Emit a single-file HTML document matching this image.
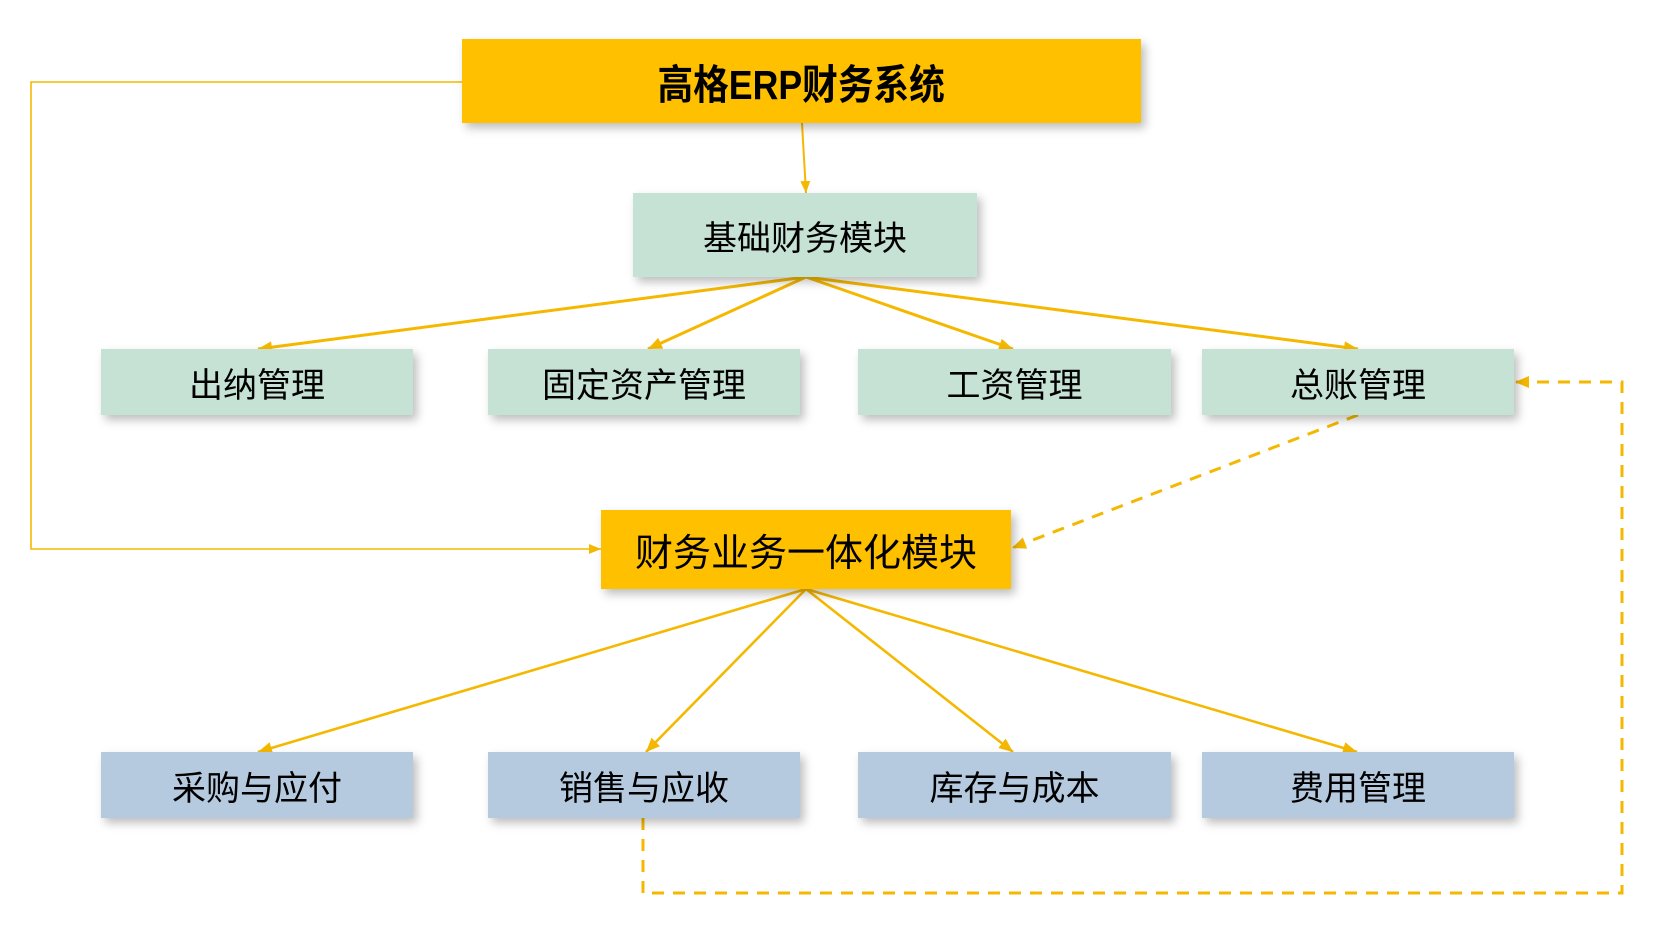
<!DOCTYPE html>
<html>
<head>
<meta charset="utf-8">
<style>
  html, body { margin:0; padding:0; background:#ffffff; }
  body { width:1658px; height:935px; position:relative; overflow:hidden;
         font-family:"Liberation Sans","Noto Sans CJK SC",sans-serif; }
  .box { position:absolute; display:flex; align-items:center; justify-content:center;
         color:#000; box-shadow:4px 5px 9px rgba(0,0,0,0.26); white-space:nowrap; }
  .y { background:#FFC000; }
  .g { background:#C6E2D5; }
  .b { background:#B5CADF; }
  .t2 { font-size:34px; }
  svg { position:absolute; left:0; top:0; }
</style>
</head>
<body>
<svg width="1658" height="935" viewBox="0 0 1658 935">
  <defs>
    <marker id="ah" markerUnits="userSpaceOnUse" markerWidth="16" markerHeight="14" refX="14" refY="6" orient="auto">
      <path d="M0,0 L14,6 L0,12 Z" fill="#F5B800"/>
    </marker>
    <marker id="ahs" markerUnits="userSpaceOnUse" markerWidth="14" markerHeight="12" refX="12" refY="5" orient="auto">
      <path d="M0,0 L12,5 L0,10 Z" fill="#F5B800"/>
    </marker>
  </defs>
  <g stroke="#F5B800" fill="none">
    <!-- title to basic -->
    <line x1="802" y1="123" x2="806" y2="193" stroke-width="2" marker-end="url(#ahs)"/>
    <!-- fan 1 -->
    <line x1="806" y1="277" x2="258" y2="349" stroke-width="3" marker-end="url(#ah)"/>
    <line x1="806" y1="277" x2="648" y2="349" stroke-width="3" marker-end="url(#ah)"/>
    <line x1="806" y1="277" x2="1013" y2="349" stroke-width="3" marker-end="url(#ah)"/>
    <line x1="806" y1="277" x2="1358" y2="349" stroke-width="3" marker-end="url(#ah)"/>
    <!-- fan 2 -->
    <line x1="806" y1="589" x2="258" y2="752" stroke-width="2.6" marker-end="url(#ah)"/>
    <line x1="806" y1="589" x2="646" y2="752" stroke-width="2.6" marker-end="url(#ah)"/>
    <line x1="806" y1="589" x2="1013" y2="752" stroke-width="2.6" marker-end="url(#ah)"/>
    <line x1="806" y1="589" x2="1357" y2="752" stroke-width="2.6" marker-end="url(#ah)"/>
    <!-- left loop -->
    <polyline points="462,82 31,82 31,549 601,549" stroke-width="1.6" marker-end="url(#ahs)"/>
    <!-- dashed from 总账 to integrated -->
    <line x1="1358" y1="415" x2="1012" y2="548" stroke-width="3" stroke-dasharray="12 9" marker-end="url(#ah)"/>
    <!-- dashed loop -->
    <polyline points="643,818 643,893 1622,893 1622,382 1515,382" stroke-width="3" stroke-dasharray="12 9" marker-end="url(#ah)"/>
  </g>
</svg>

<div class="box y" style="left:462px;top:39px;width:679px;height:84px;">
  <span style="font-size:41px;font-weight:bold;display:inline-block;transform:scaleX(0.87);">高格ERP财务系统</span>
</div>

<div class="box g" style="left:633px;top:193px;width:344px;height:84px;font-size:34px;">基础财务模块</div>

<div class="box g t2" style="left:101px;top:349px;width:312px;height:66px;">出纳管理</div>
<div class="box g t2" style="left:488px;top:349px;width:312px;height:66px;">固定资产管理</div>
<div class="box g t2" style="left:858px;top:349px;width:313px;height:66px;">工资管理</div>
<div class="box g t2" style="left:1202px;top:349px;width:312px;height:66px;">总账管理</div>

<div class="box y" style="left:601px;top:510px;width:410px;height:79px;font-size:38px;">财务业务一体化模块</div>

<div class="box b t2" style="left:101px;top:752px;width:312px;height:66px;">采购与应付</div>
<div class="box b t2" style="left:488px;top:752px;width:312px;height:66px;">销售与应收</div>
<div class="box b t2" style="left:858px;top:752px;width:313px;height:66px;">库存与成本</div>
<div class="box b t2" style="left:1202px;top:752px;width:312px;height:66px;">费用管理</div>
</body>
</html>
